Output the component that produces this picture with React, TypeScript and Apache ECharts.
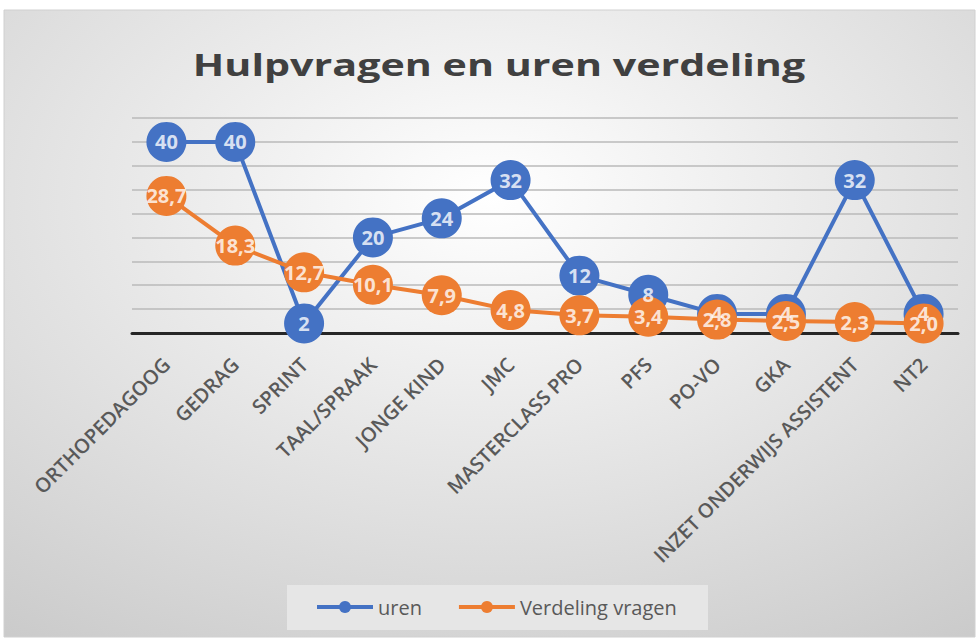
import React, { useEffect, useRef } from "react";
import * as echarts from "echarts";

const categories = [
  "ORTHOPEDAGOOG",
  "GEDRAG",
  "SPRINT",
  "TAAL/SPRAAK",
  "JONGE KIND",
  "JMC",
  "MASTERCLASS PRO",
  "PFS",
  "PO-VO",
  "GKA",
  "INZET ONDERWIJS ASSISTENT",
  "NT2",
];
const uren = [40, 40, 2, 20, 24, 32, 12, 8, 4, 4, 32, 4];
const verdelingVragen = [28.7, 18.3, 12.7, 10.1, 7.9, 4.8, 3.7, 3.4, 2.8, 2.5, 2.3, 2.0];
const seriesNames = ["uren", "Verdeling vragen"];
const title = "Hulpvragen en uren verdeling";

const BLUE = "#4472C4";
const ORANGE = "#ED7D31";
const FONT = "'Open Sans', 'Noto Sans', sans-serif";

export default function App() {
  const ref = useRef<HTMLDivElement>(null);
  useEffect(() => {
    if (!ref.current) return;
    const chart = echarts.init(ref.current, undefined, { renderer: "svg" });
    const fmtInt = (p: any) => String(p.value);
    const fmtDec = (p: any) => (p.value as number).toFixed(1).replace(".", ",");
    const labelStyle = {
      show: true,
      position: "inside",
      fontFamily: FONT,
      fontSize: 20,
      fontWeight: "bold",
      color: "#ffffff",
    };
    chart.setOption({
      animation: false,
      backgroundColor: "#ffffff",
      graphic: [
        {
          type: "rect",
          z: -10,
          silent: true,
          shape: { x: 4, y: 10, width: 971, height: 627 },
          style: {
            fill: {
              type: "radial",
              x: 0.5,
              y: 0.3,
              r: 1.0,
              colorStops: [
                { offset: 0, color: "#ffffff" },
                { offset: 1, color: "#c2c2c2" },
              ],
            },
            stroke: "#d0d0d0",
            lineWidth: 1,
          },
        },
        {
          type: "rect",
          z: -5,
          silent: true,
          shape: { x: 287, y: 585, width: 421, height: 45 },
          style: { fill: "#e6e6e6" },
        },
        {
          type: "text",
          x: 499,
          y: 64,
          scaleX: 1.33,
          z: 5,
          style: {
            text: title,
            fontFamily: FONT,
            fontSize: 31,
            fontWeight: "bold",
            fill: "#404040",
            align: "center",
            verticalAlign: "middle",
          },
        },
      ],
      legend: {
        data: seriesNames,
        left: 315,
        top: 597,
        padding: 0,
        itemGap: 35,
        itemWidth: 56,
        itemHeight: 15,
        lineStyle: { width: 4 },
        textStyle: { fontFamily: FONT, fontSize: 20, color: "#595959" },
      },
      grid: { left: 132, right: 20, top: 118, bottom: 308, containLabel: false },
      xAxis: {
        type: "category",
        data: categories,
        boundaryGap: true,
        axisLine: { lineStyle: { color: "#262626", width: 3 } },
        axisTick: { show: false },
        axisLabel: {
          rotate: 45,
          margin: 28,
          interval: 0,
          fontFamily: FONT,
          fontSize: 20,
          fontWeight: 600,
          color: "#595959",
        },
      },
      yAxis: {
        type: "value",
        min: 0,
        max: 45,
        interval: 5,
        axisLine: { show: false },
        axisTick: { show: false },
        axisLabel: { show: false },
        splitLine: { lineStyle: { color: "#bababa", width: 1.5 } },
      },
      series: [
        {
          name: seriesNames[0],
          type: "line",
          data: uren,
          symbol: "circle",
          symbolSize: 40,
          lineStyle: { color: BLUE, width: 4 },
          itemStyle: { color: BLUE },
          label: { show: false },
          z: 2,
        },
        {
          name: seriesNames[1],
          type: "line",
          data: verdelingVragen,
          symbol: "circle",
          symbolSize: 40,
          lineStyle: { color: ORANGE, width: 4 },
          itemStyle: { color: ORANGE },
          label: { show: false },
          z: 3,
        },
        {
          name: "uren-labels",
          type: "scatter",
          data: uren,
          symbol: "circle",
          symbolSize: 40,
          silent: true,
          itemStyle: { color: "rgba(0,0,0,0)" },
          label: { ...labelStyle, formatter: fmtInt },
          z: 4,
        },
        {
          name: "verdeling-labels",
          type: "scatter",
          data: verdelingVragen,
          symbol: "circle",
          symbolSize: 40,
          silent: true,
          itemStyle: { color: "rgba(0,0,0,0)" },
          label: { ...labelStyle, formatter: fmtDec },
          z: 5,
        },
      ],
    });
    return () => chart.dispose();
  }, []);
  return (
    <div
      ref={ref}
      style={{ position: "fixed", left: 0, top: 0, width: 978, height: 641 }}
    />
  );
}
